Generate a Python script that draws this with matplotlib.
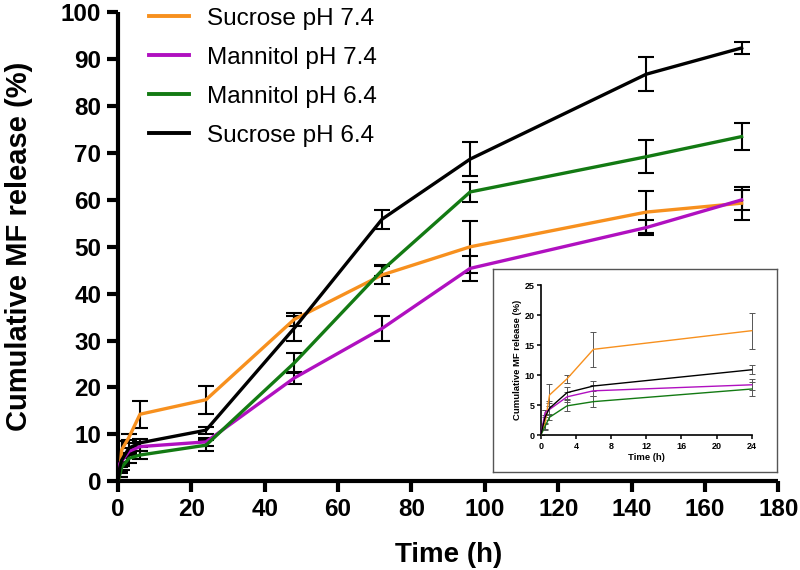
import matplotlib
matplotlib.use("Agg")
import matplotlib.pyplot as plt
from matplotlib.lines import Line2D

plt.rcParams['font.family'] = ['Liberation Sans', 'DejaVu Sans']

# ---- data ----
time_h = [0, 0.5, 1, 3, 6, 24, 48, 72, 96, 144, 170]
series_names = ["Sucrose pH 7.4", "Mannitol pH 7.4", "Mannitol pH 6.4", "Sucrose pH 6.4"]
sucrose_74 = [0, 2.0, 6.7, 9.4, 14.3, 17.4, 34.5, 44.0, 50.0, 57.4, 59.3]
sucrose_74_err = [0, 1.0, 1.8, 0.7, 2.9, 3.0, 1.4, 2.0, 5.6, 4.5, 3.5]
mannitol_74 = [0, 3.8, 4.3, 6.4, 7.4, 8.4, 22.0, 32.6, 45.4, 54.1, 60.0]
mannitol_74_err = [0, 0.4, 1.0, 0.8, 0.9, 0.9, 1.3, 2.6, 2.6, 1.6, 2.2]
mannitol_64 = [0, 1.5, 3.0, 4.9, 5.6, 7.7, 25.2, 45.0, 61.7, 69.2, 73.5]
mannitol_64_err = [0, 0.6, 0.5, 0.9, 0.9, 1.2, 2.2, 1.2, 2.2, 3.5, 2.9]
sucrose_64 = [0, 3.0, 4.5, 7.1, 8.2, 10.9, 32.6, 55.9, 68.7, 86.8, 92.4]
sucrose_64_err = [0, 1.2, 1.2, 1.0, 0.9, 0.75, 2.6, 2.0, 3.6, 3.6, 1.2]
x_ticks = [0, 20, 40, 60, 80, 100, 120, 140, 160, 180]
y_ticks = [0, 10, 20, 30, 40, 50, 60, 70, 80, 90, 100]
inset_x_ticks = [0, 4, 8, 12, 16, 20, 24]
inset_y_ticks = [0, 5, 10, 15, 20, 25]

colors = ["#F7901E", "#B010C0", "#137A13", "#000000"]
values = [sucrose_74, mannitol_74, mannitol_64, sucrose_64]
errors = [sucrose_74_err, mannitol_74_err, mannitol_64_err, sucrose_64_err]

fig = plt.figure(figsize=(8, 5.7), dpi=100)
W, H = 800, 570

def fr(x0, y0, x1, y1):
    return [x0 / W, 1 - y1 / H, (x1 - x0) / W, (y1 - y0) / H]

ax = fig.add_axes(fr(118, 12.3, 778.3, 481.3))
for v, e, c in zip(values, errors, colors):
    ax.errorbar(time_h, v, yerr=e, fmt='none', ecolor='black', elinewidth=1.5,
                capsize=6, capthick=1.5, zorder=2)
for v, c, n in zip(values, colors, series_names):
    ax.plot(time_h, v, color=c, lw=2.4, label=n, zorder=3, solid_joinstyle='round')

ax.set_xlim(0, 180)
ax.set_ylim(0, 100)
ax.set_xticks(x_ticks)
ax.set_yticks(y_ticks)
ax.spines['top'].set_visible(False)
ax.spines['right'].set_visible(False)
for s in ['left', 'bottom']:
    ax.spines[s].set_linewidth(3)
    ax.spines[s].set_capstyle('butt')
ax.tick_params(axis='both', length=8, width=3, labelsize=17.5, direction='out', pad=4)
for lab in ax.get_xticklabels() + ax.get_yticklabels():
    lab.set_fontweight('bold')
ax.set_xlabel("Time (h)", fontsize=20, fontweight='bold', labelpad=15)
ax.set_ylabel("Cumulative MF release (%)", fontsize=21, fontweight='bold', labelpad=20)

handles = [Line2D([0], [0], color=c, lw=2.8) for c in colors]
fig.legend(handles, series_names, loc='upper left',
           bbox_to_anchor=(134 / W, 1 + 7 / H), frameon=False, fontsize=17.5,
           handlelength=1.65, handletextpad=0.75, labelspacing=0.7, borderpad=0.1)

# inset frame
frame = fig.add_axes(fr(492.7, 269.3, 777.3, 471.7), zorder=1)
frame.set_xticks([]); frame.set_yticks([])
for s in frame.spines.values():
    s.set_edgecolor('#555555'); s.set_linewidth(1.0)
frame.set_facecolor('white')

ins = fig.add_axes(fr(540.7, 285, 751.7, 435.3), zorder=2)
ins.patch.set_alpha(0)
n_in = sum(1 for t in time_h if t <= 24)
for v, e, c in zip(values, errors, colors):
    ins.errorbar(time_h[:n_in], v[:n_in], yerr=e[:n_in], fmt='none', ecolor='#555555',
                 elinewidth=0.7, capsize=2.5, capthick=0.7, zorder=2, clip_on=False)
    ins.plot(time_h[:n_in], v[:n_in], color=c, lw=1.0, zorder=3, clip_on=False)
ins.set_xlim(0, 24)
ins.set_ylim(0, 25)
ins.set_xticks(inset_x_ticks)
ins.set_yticks(inset_y_ticks)
ins.spines['top'].set_visible(False)
ins.spines['right'].set_visible(False)
for s in ['left', 'bottom']:
    ins.spines[s].set_linewidth(1.2)
ins.tick_params(axis='both', length=3, width=1.1, labelsize=6.5, pad=1.5)
for lab in ins.get_xticklabels() + ins.get_yticklabels():
    lab.set_fontweight('bold')
ins.set_xlabel("Time (h)", fontsize=6.8, fontweight='bold', labelpad=1.5)
ins.set_ylabel("Cumulative MF release (%)", fontsize=6.8, fontweight='bold', labelpad=2)

fig.savefig("out.png", dpi=100)
